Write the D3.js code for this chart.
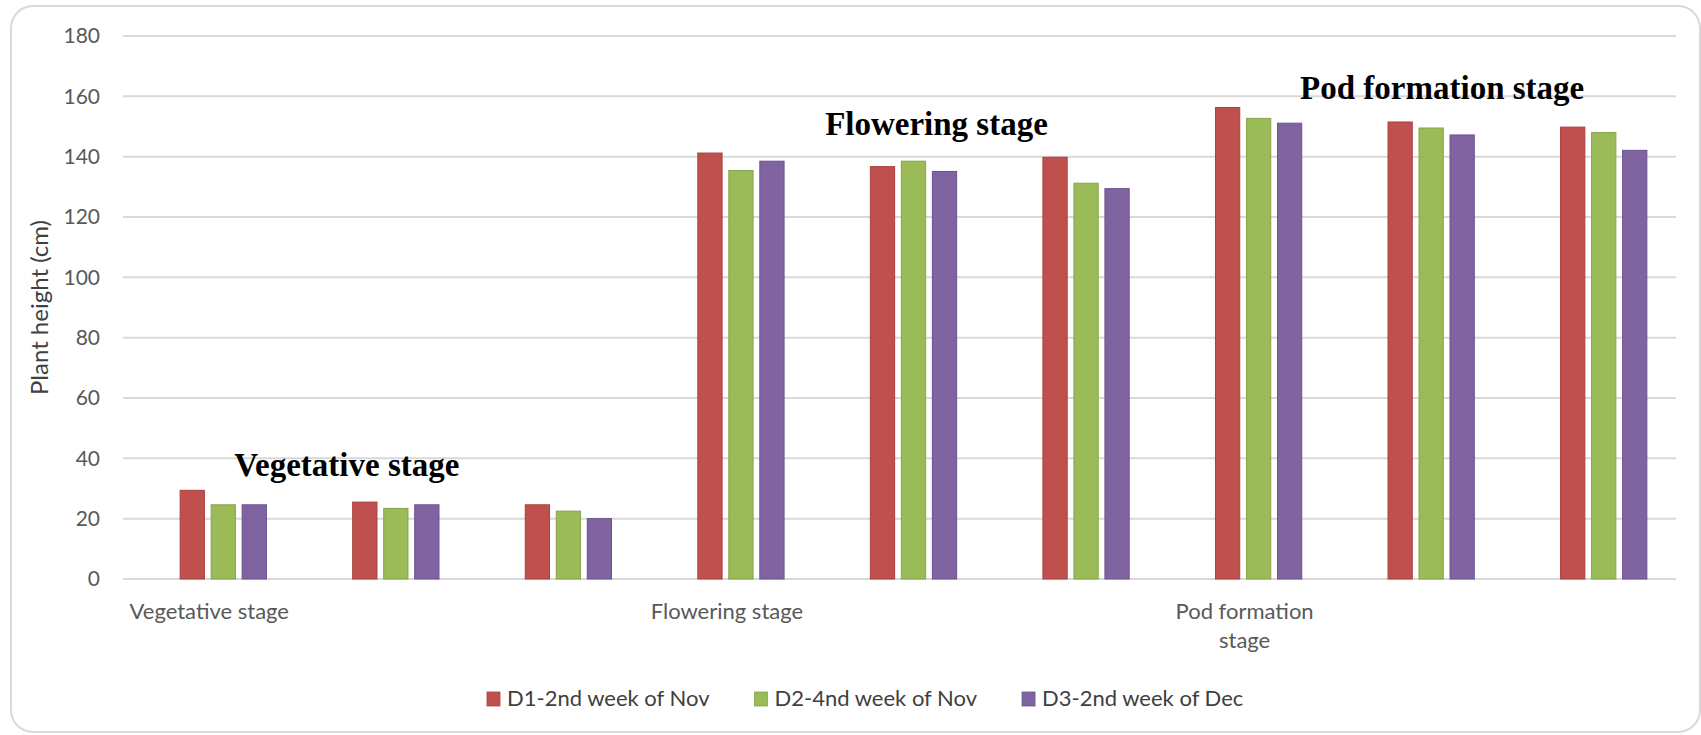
<!DOCTYPE html>
<html>
<head>
<meta charset="utf-8">
<script src="https://cdn.jsdelivr.net/npm/d3@7"></script>
<style>
  html, body { margin: 0; padding: 0; background: #fff; }
  svg { display: block; }
</style>
</head>
<body>
<svg id="chart" width="1701" height="735"></svg>
<script>
// Data
const groups = ['g1', 'g2', 'g3', 'g4', 'g5', 'g6', 'g7', 'g8', 'g9'];
const groupLabels = ['Vegetative stage', '', '', 'Flowering stage', '', '', 'Pod formation|stage', '', ''];
const seriesNames = ['D1-2nd week of Nov', 'D2-4nd week of Nov', 'D3-2nd week of Dec'];
const d1 = [29.4, 25.5, 24.6, 141.2, 136.7, 139.8, 156.3, 151.5, 149.8];
const d2 = [24.6, 23.4, 22.5, 135.4, 138.5, 131.2, 152.7, 149.5, 148.0];
const d3v = [24.6, 24.6, 20.0, 138.5, 135.1, 129.4, 151.1, 147.2, 142.1];
const yTicks = [0, 20, 40, 60, 80, 100, 120, 140, 160, 180];
const stageNotes = [
  { text: 'Vegetative stage', group: 'g2', dx: -49, value: 34 },
  { text: 'Flowering stage', group: 'g5', dx: 23, value: 147.2 },
  { text: 'Pod formation stage', group: 'g8', dx: 11, value: 159 },
];

const colors = ['#C0504D', '#9BBB59', '#8064A2'];
const edges = ['#a9413e', '#86a548', '#6b5290'];
const values = [d1, d2, d3v];

const svg = d3.select('#chart');
const plot = { left: 123, right: 1676, top: 36, bottom: 579 };
const barShift = 14;
const sans = 'Lato, "Open Sans", sans-serif';

// Outer frame
svg.append('rect')
  .attr('x', 11)
  .attr('y', 6)
  .attr('width', 1689)
  .attr('height', 726)
  .attr('rx', 22)
  .attr('ry', 22)
  .attr('fill', '#fff')
  .attr('stroke', '#d9d9d9')
  .attr('stroke-width', 2);

// Scales
const x = d3.scaleBand()
  .domain(groups)
  .range([plot.left, plot.right])
  .paddingInner(0.5)
  .paddingOuter(0.25);

const xs = d3.scaleBand()
  .domain(seriesNames)
  .range([0, x.bandwidth()])
  .paddingInner(0.217);

const y = d3.scaleLinear()
  .domain([0, 180])
  .range([plot.bottom, plot.top]);

// Gridlines
svg.append('g')
  .selectAll('line')
  .data(yTicks)
  .join('line')
  .attr('x1', plot.left)
  .attr('x2', plot.right)
  .attr('y1', (d) => y(d))
  .attr('y2', (d) => y(d))
  .attr('stroke', '#d9d9d9')
  .attr('stroke-width', 2);

// Y axis labels
const yAxis = svg.append('g')
  .attr('transform', `translate(${plot.left - 23},0)`)
  .call(d3.axisLeft(y).tickValues(yTicks).tickSize(0).tickPadding(0));
yAxis.select('.domain').remove();
yAxis.selectAll('text')
  .style('font', `21px ${sans}`)
  .attr('fill', '#595959');

svg.append('text')
  .attr('transform', `translate(48, ${(plot.top + plot.bottom) / 2}) rotate(-90)`)
  .attr('text-anchor', 'middle')
  .style('font', `24px ${sans}`)
  .attr('fill', '#404040')
  .text('Plant height (cm)');

// Bars
const bars = svg.append('g');
seriesNames.forEach((name, s) => {
  bars.append('g')
    .selectAll('rect')
    .data(values[s])
    .join('rect')
    .attr('x', (d, i) => x(groups[i]) + barShift + xs(name))
    .attr('y', (d) => y(d))
    .attr('width', xs.bandwidth())
    .attr('height', (d) => y(0) - y(d))
    .attr('fill', colors[s])
    .attr('stroke', edges[s])
    .attr('stroke-width', 1);
});

// X category labels
const xl = svg.append('g')
  .selectAll('text')
  .data(groupLabels)
  .join('text')
  .attr('x', (d, i) => x(groups[i]) + x.bandwidth() / 2)
  .attr('y', 619)
  .attr('text-anchor', 'middle')
  .style('font', `22px ${sans}`)
  .attr('fill', '#595959');
xl.each(function (d) {
  const lines = d.split('|');
  lines.forEach((t, k) => {
    d3.select(this).append('tspan')
      .attr('x', d3.select(this).attr('x'))
      .attr('dy', k === 0 ? 0 : 29)
      .text(t);
  });
});

// Stage notes
svg.append('g')
  .selectAll('text')
  .data(stageNotes)
  .join('text')
  .attr('x', (d) => x(d.group) + barShift + x.bandwidth() / 2 + d.dx)
  .attr('y', (d) => y(d.value))
  .attr('text-anchor', 'middle')
  .style('font', 'bold 33px "Liberation Serif", "Times New Roman", serif')
  .attr('fill', '#000')
  .text((d) => d.text);

// Legend
const legend = svg.append('g').attr('transform', 'translate(487, 706)');
let lx = 0;
seriesNames.forEach((name, s) => {
  const item = legend.append('g').attr('transform', `translate(${lx},0)`);
  item.append('rect')
    .attr('x', 0)
    .attr('y', -14)
    .attr('width', 13)
    .attr('height', 14)
    .attr('fill', colors[s])
    .attr('stroke', edges[s])
    .attr('stroke-width', 0.8);
  const t = item.append('text')
    .attr('x', 20)
    .attr('y', 0)
    .style('font', `22px ${sans}`)
    .attr('fill', '#404040')
    .text(name);
  lx += 20 + t.node().getComputedTextLength() + 45;
});
</script>
</body>
</html>
